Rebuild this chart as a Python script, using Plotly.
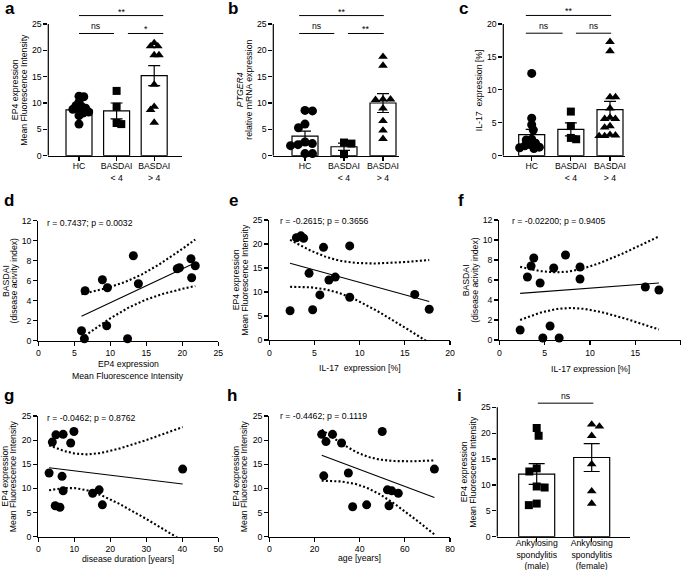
import numpy as np
import plotly.graph_objects as go

W, H = 685, 570
FONT = "Liberation Sans, Arial, Helvetica, sans-serif"
FS = 8.7
LW = 1.2

# ---------------- data ----------------
GROUPS3 = ["HC", "BASDAI<br>&lt; 4", "BASDAI<br>&gt; 4"]
GROUPS_I = ["Ankylosing<br>spondylitis<br>(male)", "Ankylosing<br>spondylitis<br>(female)"]

# panel a: EP4 MFI
a_hc = [11.3, 11.2, 10.2, 9.5, 9.4, 9.0, 8.8, 8.6, 8.3, 8.1, 7.6, 6.0]
a_lo = [12.3, 9.3, 6.0, 6.2]
a_hi = [21.4, 20.8, 20.8, 19.1, 19.1, 13.5, 9.3, 8.7, 6.3]
a_mean = [8.7, 8.5, 15.2]
a_sem = [0.45, 1.5, 1.9]
a_sig = ["**", "ns", "*"]

# panel b: PTGER4 mRNA
b_hc = [8.6, 8.5, 6.0, 5.3, 2.6, 2.3, 2.1, 1.9, 0.4, 0.4]
b_lo = [2.5, 2.3, 0.3]
b_hi = [18.8, 17.1, 10.7, 10.6, 10.7, 9.0, 6.6, 4.8, 3.2]
b_mean = [3.7, 1.7, 10.0]
b_sem = [0.95, 0.7, 1.8]
b_sig = ["**", "ns", "**"]

# panel c: IL-17 %
c_hc = [12.5, 5.7, 4.7, 3.9, 2.5, 2.4, 1.9, 1.5, 1.2, 1.1, 1.3, 1.7]
c_lo = [6.7, 4.5, 2.5, 2.7]
c_hi = [17.3, 15.9, 8.9, 8.9, 7.2, 5.8, 5.6, 5.6, 4.5, 4.3, 3.2, 3.0, 3.0, 3.1]
c_mean = [3.2, 4.0, 7.0]
c_sem = [0.8, 1.0, 1.25]
c_sig = ["**", "ns", "ns"]

# panel d: BASDAI vs EP4
d_x = [6.0, 6.4, 6.5, 8.9, 9.6, 9.5, 12.4, 13.2, 13.9, 19.3, 19.6, 21.2, 21.3, 21.8]
d_y = [1.0, 0.2, 5.0, 6.1, 5.3, 1.5, 0.2, 8.5, 5.7, 7.2, 7.3, 8.2, 6.3, 7.5]
d_stat = "r = 0.7437; p = 0.0032"

# panel e: EP4 vs IL-17
e_x = [2.3, 3.0, 3.5, 3.8, 4.4, 4.8, 5.6, 6.0, 6.6, 7.3, 8.9, 8.9, 16.1, 17.7]
e_y = [6.1, 21.3, 21.7, 21.2, 13.9, 6.3, 9.4, 19.3, 12.5, 13.1, 19.6, 8.9, 9.5, 6.4]
e_stat = "r = -0.2615; p = 0.3656"

# panel f: BASDAI vs IL-17
f_x = [2.3, 3.1, 3.5, 3.8, 4.5, 4.8, 5.6, 6.0, 6.6, 7.3, 8.9, 8.9, 16.1, 17.6]
f_y = [1.0, 6.3, 7.4, 8.2, 5.7, 0.2, 1.4, 7.2, 0.2, 8.5, 7.3, 6.1, 5.3, 5.0]
f_stat = "r = -0.02200; p = 0.9405"

# panel g: EP4 vs disease duration
g_x = [3.0, 3.9, 4.9, 4.7, 6.0, 6.9, 6.6, 6.9, 9.0, 9.9, 15.1, 16.9, 17.8, 40.1]
g_y = [13.2, 19.6, 21.1, 6.4, 6.1, 21.2, 12.5, 9.5, 19.4, 21.8, 9.0, 9.7, 6.6, 14.0]
g_stat = "r = -0.0462; p = 0.8762"

# panel h: EP4 vs age
h_x = [23.2, 25.1, 28.0, 32.0, 24.1, 35.0, 36.9, 43.1, 50.0, 52.3, 54.2, 53.0, 57.1, 73.1]
h_y = [21.2, 19.7, 21.2, 19.4, 12.6, 13.2, 6.2, 6.6, 21.8, 9.7, 9.5, 6.4, 9.0, 14.0]
h_stat = "r = -0.4462; p = 0.1119"

# panel i: EP4 by sex
i_male = [21.0, 19.5, 13.2, 12.6, 9.7, 9.5, 6.4, 6.1]
i_female = [21.7, 21.3, 19.5, 14.0, 8.8, 6.4]
i_mean = [12.1, 15.3]
i_sem = [2.0, 2.7]
i_sig = ["ns"]

T95 = {12: 2.179, 11: 2.201, 13: 2.160}

# ---------------- layout geometry (pixels) ----------------
BARP = {
    'a': dict(k=1, x0=48.3, x1=182.0, c0=79.0, step=37.6, bwpx=26, cap=6,
              yb=155.7, yt=24.0, ymaxax=25, ytop=28, dt=5, lso=-2),
    'b': dict(k=2, x0=273.3, x1=398.5, c0=305.0, step=39.0, bwpx=26, cap=6,
              yb=155.7, yt=24.0, ymaxax=25, ytop=28, dt=5, lso=-2),
    'c': dict(k=3, x0=503.3, x1=625.0, c0=531.7, step=39.15, bwpx=26, cap=6,
              yb=155.7, yt=24.0, ymaxax=20, ytop=22.5, dt=5, lso=-2),
    'i': dict(k=9, x0=497.3, x1=630.0, c0=536.7, step=55.0, bwpx=36, cap=8,
              yb=536.7, yt=407.3, ymaxax=25, ytop=27, dt=5, lso=-6),
}
SCP = {
    'd': dict(k=4, x0=38.3, x1=218.3, xr=(0, 25), dx=5, yb=340.7, yt=220.7, yr=(0, 12), dy=2),
    'e': dict(k=5, x0=269.3, x1=450.0, xr=(0, 20), dx=5, yb=340.0, yt=220.0, yr=(0, 25), dy=5),
    'f': dict(k=6, x0=499.3, x1=680.7, xr=(0, 20), dx=5, yb=340.0, yt=220.0, yr=(0, 12), dy=2),
    'g': dict(k=7, x0=38.3, x1=218.3, xr=(0, 50), dx=10, yb=536.7, yt=416.0, yr=(0, 25), dy=5),
    'h': dict(k=8, x0=269.3, x1=450.0, xr=(0, 80), dx=20, yb=536.7, yt=416.0, yr=(0, 25), dy=5),
}

def sid(k):
    return '' if k == 1 else str(k)

fig = go.Figure()
layout = dict(template='none', width=W, height=H, margin=dict(l=0, r=0, t=0, b=0, autoexpand=False),
              plot_bgcolor='white', paper_bgcolor='white', showlegend=False,
              font=dict(family=FONT, size=FS, color='black'))
shapes, annots = [], []

AXBASE = dict(showline=True, linecolor='black', linewidth=LW, ticks='outside', ticklen=4,
              tickwidth=LW, tickcolor='black', showgrid=False, zeroline=False, automargin=False,
              tickfont=dict(family=FONT, size=FS, color='#000000'), fixedrange=True)

def px2fx(px):
    return px / W

def px2fy(py):
    return 1 - py / H

def text(x, y, s, size=FS, angle=0, xa='center', ya='middle', ref=('paper', 'paper'), yshift=0):
    annots.append(dict(x=x, y=y, xref=ref[0], yref=ref[1], text=s, showarrow=False,
                       textangle=angle, xanchor=xa, yanchor=ya, yshift=yshift,
                       font=dict(family=FONT, size=size, color='#000000')))

def swarm(vals, ypx, xpx, dia):
    vals = np.asarray(vals, float)
    order = np.argsort(-vals, kind='stable')
    placed = []
    offs = np.zeros(len(vals))
    side = 1
    for idx in order:
        y = vals[idx] * ypx
        cands = [0.0]
        for (px, py) in placed:
            dyy = abs(y - py)
            if dyy < dia:
                ddx = np.sqrt(dia ** 2 - dyy ** 2)
                cands += [px - ddx, px + ddx]
        cands = sorted(cands, key=lambda c: (round(abs(c), 4), -side * c))
        chosen = 0.0
        for c in cands:
            if all((c - px) ** 2 + (y - py) ** 2 >= dia ** 2 - 1e-6 for px, py in placed):
                chosen = c
                break
        if abs(chosen) > 1e-6:
            side = -np.sign(chosen)
        placed.append((chosen, y))
        offs[idx] = chosen / xpx
    return offs

def bar_panel(name, groups, labels, means, sems, symbols, sizes, sig, brackets, dia):
    g = BARP[name]
    k = g['k']
    xr = ((g['x0'] - g['c0']) / g['step'], (g['x1'] - g['c0']) / g['step'])
    ypu = (g['yb'] - g['yt']) / g['ymaxax']
    ptop = g['yb'] - g['ytop'] * ypu
    layout['xaxis' + sid(k)] = dict(AXBASE, domain=[px2fx(g['x0']), px2fx(g['x1'])], range=list(xr),
                                    anchor='y' + sid(k), tickvals=list(range(len(labels))),
                                    ticktext=labels, ticklabelstandoff=g['lso'])
    layout['yaxis' + sid(k)] = dict(AXBASE, domain=[px2fy(g['yb']), px2fy(ptop)], range=[0, g['ytop']],
                                    anchor='x' + sid(k), showline=False,
                                    tickvals=list(np.arange(0, g['ymaxax'] + 0.01, g['dt'])))
    xs = list(range(len(means)))
    fig.add_trace(go.Bar(x=xs, y=means, width=g['bwpx'] / g['step'],
                         marker=dict(color='white', line=dict(color='black', width=LW)),
                         error_y=dict(type='data', array=sems, visible=True, color='black',
                                      thickness=LW, width=g['cap']),
                         xaxis='x' + sid(k), yaxis='y' + sid(k), hoverinfo='skip'))
    for gi, (vals, sym, sz) in enumerate(zip(groups, symbols, sizes)):
        offs = swarm(vals, ypu, g['step'], dia)
        fig.add_trace(go.Scatter(x=gi + offs, y=vals, mode='markers', cliponaxis=False,
                                 marker=dict(symbol=sym, size=sz, color='black', line=dict(width=0)),
                                 xaxis='x' + sid(k), yaxis='y' + sid(k), hoverinfo='skip'))
    # y axis line only up to the last tick
    shapes.append(dict(type='line', xref='x' + sid(k) + ' domain', x0=0, x1=0,
                       yref='y' + sid(k), y0=0, y1=g['ymaxax'],
                       line=dict(color='black', width=LW)))
    for (x0, x1, yv), lab in zip(brackets, sig):
        shapes.append(dict(type='line', xref='x' + sid(k), yref='y' + sid(k),
                           x0=x0, x1=x1, y0=yv, y1=yv, line=dict(color='black', width=1)))
        text((x0 + x1) / 2, yv, lab, ya='bottom', ref=('x' + sid(k), 'y' + sid(k)),
             yshift=(-3 if '*' in lab else 0))

def scatter_panel(name, x, y, stat, stat_px):
    g = SCP[name]
    k = g['k']
    layout['xaxis' + sid(k)] = dict(AXBASE, domain=[px2fx(g['x0']), px2fx(g['x1'])], range=list(g['xr']),
                                    anchor='y' + sid(k), dtick=g['dx'], tick0=0)
    layout['yaxis' + sid(k)] = dict(AXBASE, domain=[px2fy(g['yb']), px2fy(g['yt'])], range=list(g['yr']),
                                    anchor='x' + sid(k), dtick=g['dy'], tick0=0)
    xa = np.asarray(x, float)
    ya = np.asarray(y, float)
    n = len(xa)
    b1, b0 = np.polyfit(xa, ya, 1)
    xs = np.linspace(xa.min(), xa.max(), 80)
    yhat = b0 + b1 * xs
    resid = ya - (b0 + b1 * xa)
    s = np.sqrt(np.sum(resid ** 2) / (n - 2))
    sxx = np.sum((xa - xa.mean()) ** 2)
    se = s * np.sqrt(1 / n + (xs - xa.mean()) ** 2 / sxx)
    t = T95[n - 2]
    for yy in (yhat - t * se, yhat + t * se):
        fig.add_trace(go.Scatter(x=xs, y=yy, mode='lines', line=dict(color='black', width=2.1, dash='2px,2.2px'),
                                 xaxis='x' + sid(k), yaxis='y' + sid(k), hoverinfo='skip'))
    fig.add_trace(go.Scatter(x=xs, y=yhat, mode='lines', line=dict(color='black', width=1.1),
                             xaxis='x' + sid(k), yaxis='y' + sid(k), hoverinfo='skip'))
    fig.add_trace(go.Scatter(x=xa, y=ya, mode='markers', cliponaxis=False,
                             marker=dict(symbol='circle', size=9, color='black', line=dict(width=0)),
                             xaxis='x' + sid(k), yaxis='y' + sid(k), hoverinfo='skip'))
    text(px2fx(stat_px[0]), px2fy(stat_px[1]), stat, xa='left')

CIRC, SQ, TRI = 'circle', 'square', 'triangle-up'
SZ3 = [9, 8, 8.5]

# ---- bar panels ----
bar_panel('a', [a_hc, a_lo, a_hi], GROUPS3, a_mean, a_sem, [CIRC, SQ, TRI], SZ3, a_sig,
          [(0.0, 2.24, 26.6), (0.0, 0.93, 23.2), (1.30, 2.24, 23.2)], 4.8)
bar_panel('b', [b_hc, b_lo, b_hi], GROUPS3, b_mean, b_sem, [CIRC, SQ, TRI], SZ3, b_sig,
          [(-0.15, 2.02, 26.6), (-0.15, 0.75, 23.2), (1.10, 2.02, 23.2)], 7.5)
bar_panel('c', [c_hc, c_lo, c_hi], GROUPS3, c_mean, c_sem, [CIRC, SQ, TRI], SZ3, c_sig,
          [(-0.15, 2.03, 21.3), (-0.15, 0.79, 18.6), (1.13, 2.03, 18.6)], 5.5)
bar_panel('i', [i_male, i_female], GROUPS_I, i_mean, i_sem, [SQ, TRI], [8, 8.5], i_sig,
          [(0.02, 1.03, 25.8)], 8.0)

# ---- scatter panels ----
scatter_panel('d', d_x, d_y, d_stat, (45, 222.7))
scatter_panel('e', e_x, e_y, e_stat, (278.3, 220.5))
scatter_panel('f', f_x, f_y, f_stat, (510, 220.5))
scatter_panel('g', g_x, g_y, g_stat, (45, 418.3))
scatter_panel('h', h_x, h_y, h_stat, (278.3, 416.0))

# ---- axis titles ----
def ytitle(axis_px, yb, yt, lines):
    yc = (yb + yt) / 2
    if len(lines) == 1:
        text(px2fx(axis_px - 24), px2fy(yc), lines[0], angle=-90)
    else:
        text(px2fx(axis_px - 33), px2fy(yc), lines[0], angle=-90)
        text(px2fx(axis_px - 24.5), px2fy(yc), lines[1], angle=-90)

ytitle(48.3, 155.7, 24.0, ["EP4 expression", "Mean Fluorescence Intensity"])
ytitle(273.3, 155.7, 24.0, ["<i>PTGER4</i>", "relative mRNA expression"])
ytitle(503.3, 155.7, 24.0, ["IL-17\u00a0 expression [%]"])
ytitle(38.3, 340.7, 220.7, ["BASDAI", "(disease acivity index)"])
ytitle(269.3, 340.0, 220.0, ["EP4 expression", "Mean Fluorescence Intensity"])
ytitle(499.3, 340.0, 220.0, ["BASDAI", "(disease acivity index)"])
ytitle(38.3, 536.7, 416.0, ["EP4 expression", "Mean Fluorescence Intensity"])
ytitle(269.3, 536.7, 416.0, ["EP4 expression", "Mean Fluorescence Intensity"])
ytitle(497.3, 536.7, 407.3, ["EP4 expression", "Mean Fluorescence Intensity"])

def xtitle(x0, x1, ypx, s):
    text(px2fx((x0 + x1) / 2), px2fy(ypx), s)

xtitle(38.3, 218.3, 363.5, "EP4 expression")
xtitle(38.3, 218.3, 375.5, "Mean Fluorescence Intensity")
xtitle(269.3, 450.0, 367.5, "IL-17\u00a0 expression [%]")
xtitle(499.3, 680.7, 368.5, "IL-17 expression [%]")
xtitle(38.3, 218.3, 558.5, "disease duration [years]")
xtitle(269.3, 450.0, 558.0, "age [years]")

# ---- panel letters ----
for lab, (px, py) in {'a': (3, 8), 'b': (226, 8), 'c': (457, 8),
                      'd': (2, 200), 'e': (227, 200), 'f': (456, 200),
                      'g': (2, 395), 'h': (225, 395), 'i': (455, 395)}.items():
    text(px2fx(px), px2fy(py), '<b>' + lab + '</b>', size=17, xa='left')

layout['shapes'] = shapes
layout['annotations'] = annots
fig.update_layout(**layout)
fig.write_html("out.html", config={'displayModeBar': False, 'staticPlot': True},
               post_script="document.body.style.margin='0px';document.body.style.overflow='hidden';")
